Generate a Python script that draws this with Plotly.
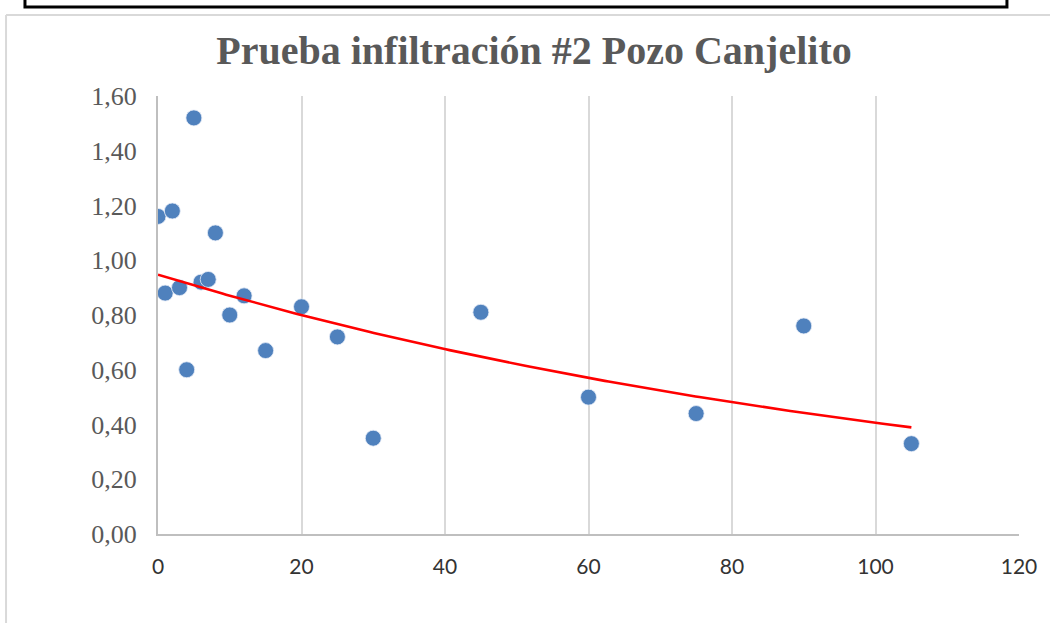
import numpy as np
import plotly.graph_objects as go

# Measured infiltration values over time
tiempo = [0, 1, 2, 3, 4, 5, 6, 7, 8, 10, 12, 15, 20, 25, 30, 45, 60, 75, 90, 105]
infiltracion = [1.16, 0.88, 1.18, 0.90, 0.60, 1.52, 0.92, 0.93, 1.10, 0.80,
                0.87, 0.67, 0.83, 0.72, 0.35, 0.81, 0.50, 0.44, 0.76, 0.33]

x_ticks = [0, 20, 40, 60, 80, 100, 120]
y_ticks = [0.0, 0.2, 0.4, 0.6, 0.8, 1.0, 1.2, 1.4, 1.6]

# Exponential trendline: least squares on ln(y)
b, ln_a = np.polyfit(np.array(tiempo, float), np.log(infiltracion), 1)
xt = np.linspace(min(tiempo), max(tiempo), 200)
yt = np.exp(ln_a) * np.exp(b * xt)

fig = go.Figure()
fig.add_trace(go.Scatter(
    x=tiempo, y=infiltracion, mode="markers",
    marker=dict(size=16, color="#4f81bd", line=dict(color="#e8eef7", width=0.8)),
    showlegend=False,
))
fig.add_trace(go.Scatter(
    x=xt, y=yt, mode="lines",
    line=dict(color="#ff0000", width=2.6),
    showlegend=False,
))

fig.update_layout(
    width=1050, height=623,
    margin=dict(l=158, r=31, t=96, b=89),
    paper_bgcolor="white", plot_bgcolor="white",
    separators=",.",
    title=dict(
        text="<b>Prueba infiltración #2 Pozo Canjelito</b>",
        x=534 / 1050, xref="container", xanchor="center",
        y=1 - 50 / 623, yref="container", yanchor="middle",
        font=dict(family="Liberation Serif", size=40, color="#595959"),
    ),
    xaxis=dict(
        range=[0, 120], tickvals=x_ticks,
        showgrid=True, gridcolor="#d9d9d9", gridwidth=1.5,
        showline=True, linecolor="#bfbfbf", linewidth=2,
        zeroline=False, ticks="", ticklabelstandoff=13,
        tickfont=dict(family="Lato", size=21, color="#333333"),
    ),
    yaxis=dict(
        range=[0, 1.6], tickvals=y_ticks, tickformat=".2f",
        showgrid=False, zeroline=False,
        showline=True, linecolor="#bfbfbf", linewidth=2,
        ticks="", ticklabelstandoff=14,
        tickfont=dict(family="Liberation Serif", size=26, color="#595959"),
    ),
    shapes=[
        # chart area border
        dict(type="line", xref="paper", yref="paper",
             x0=-0.1765, x1=-0.1765, y0=1.185, y1=-0.3,
             line=dict(color="#d9d9d9", width=2)),
        dict(type="line", xref="paper", yref="paper",
             x0=-0.1765, x1=1.1, y0=1.185, y1=1.185,
             line=dict(color="#d9d9d9", width=2)),
        # framed box above the chart
        dict(type="rect", xref="paper", yref="paper",
             x0=-0.1545, x1=0.986, y0=1.203, y1=1.27,
             line=dict(color="black", width=3), fillcolor="white"),
    ],
)

fig.write_html("out.html")
